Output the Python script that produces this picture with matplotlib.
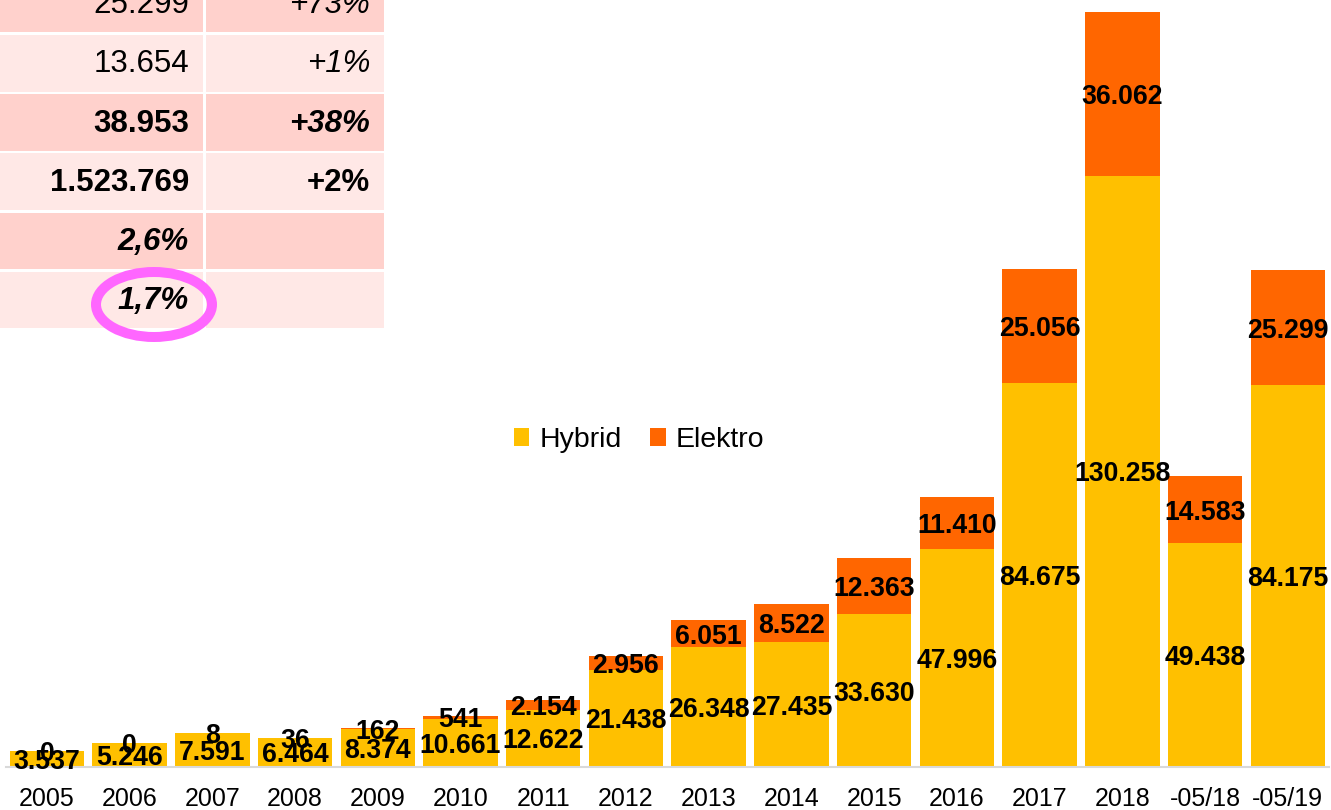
import numpy as np
import matplotlib
matplotlib.use("Agg")
from matplotlib import pyplot as plt
from matplotlib.patches import Rectangle, Ellipse

plt.rcParams['font.family'] = ['Liberation Sans', 'DejaVu Sans']

# chart data
years = ['2005', '2006', '2007', '2008', '2009', '2010', '2011', '2012', '2013',
         '2014', '2015', '2016', '2017', '2018', '-05/18', '-05/19']
hybrid = [3537, 5246, 7591, 6464, 8374, 10661, 12622, 21438, 26348,
          27435, 33630, 47996, 84675, 130258, 49438, 84175]
elektro = [0, 0, 8, 36, 162, 541, 2154, 2956, 6051,
           8522, 12363, 11410, 25056, 36062, 14583, 25299]

# table rows (value, change), cut off at the top of the picture
tab_values = ['25.299', '13.654', '38.953', '1.523.769', '2,6%', '1,7%']
tab_changes = ['+73%', '+1%', '+38%', '+2%', '', '']
tab_weights = ['normal', 'normal', 'bold', 'bold', 'bold', 'bold']
val_styles = ['normal', 'normal', 'normal', 'normal', 'italic', 'italic']
chg_styles = ['italic', 'italic', 'italic', 'normal', 'normal', 'normal']

c_hyb = '#FFC000'
c_ele = '#FF6600'

W, H = 1331, 810
fig = plt.figure(figsize=(W / 100, H / 100), dpi=100)
ax = fig.add_axes([5.6 / W, 43 / H, 1323.5 / W, 767 / H])

x = np.arange(len(years))
ax.bar(x, hybrid, width=0.9, color=c_hyb, label='Hybrid', zorder=2)
ax.bar(x, elektro, width=0.9, bottom=hybrid, color=c_ele, label='Elektro', zorder=2)

for i in range(len(years)):
    ax.text(x[i], hybrid[i] / 2, f"{hybrid[i]:,}".replace(',', '.'),
            ha='center', va='center_baseline', fontsize=19.2, fontweight='bold', zorder=3)
    ax.text(x[i], hybrid[i] + elektro[i] / 2, f"{elektro[i]:,}".replace(',', '.'),
            ha='center', va='center_baseline', fontsize=19.2, fontweight='bold', zorder=3)

ax.set_xlim(-0.5, len(years) - 0.5)
ax.set_ylim(0, 169000)
ax.set_xticks(x)
ax.set_xticklabels(years, fontsize=18)
ax.tick_params(axis='x', length=0, pad=14.5)
ax.set_yticks([])
for s in ['top', 'right', 'left']:
    ax.spines[s].set_visible(False)
ax.spines['bottom'].set_color('#D9D9D9')
ax.spines['bottom'].set_linewidth(1.5)

ax.legend(loc='center', bbox_to_anchor=(639 / W, (810 - 440) / H),
          bbox_transform=fig.transFigure, frameon=False, fontsize=20.5, ncol=2,
          handlelength=0.55, handleheight=0.55, handletextpad=0.35, columnspacing=1.0)

# overlay for the table (pixel coordinates)
ov = fig.add_axes([0, 0, 1, 1], zorder=5)
ov.set_xlim(0, W)
ov.set_ylim(H, 0)
ov.axis('off')
ov.patch.set_alpha(0)

row_h = 59.2
top0 = 35 - row_h
for r in range(len(tab_values)):
    y0 = top0 + r * row_h
    fc = '#FFD1CC' if r % 2 == 0 else '#FFE8E6'
    ov.add_patch(Rectangle((0, y0), 203, row_h - 2.5, facecolor=fc, edgecolor='none'))
    ov.add_patch(Rectangle((205.5, y0), 178.5, row_h - 2.5, facecolor=fc, edgecolor='none'))
    yc = y0 + (row_h - 2.5) / 2 + 1
    ov.text(189, yc, tab_values[r], ha='right', va='center', fontsize=22.5,
            fontweight=tab_weights[r], fontstyle=val_styles[r])
    if tab_changes[r]:
        ov.text(370, yc, tab_changes[r], ha='right', va='center', fontsize=22.5,
                fontweight=tab_weights[r], fontstyle=chg_styles[r])

ov.add_patch(Ellipse((154, 304.5), 116, 65, facecolor='none', edgecolor='#FF66FF', linewidth=7.2))

fig.savefig('out.png', dpi=100)
